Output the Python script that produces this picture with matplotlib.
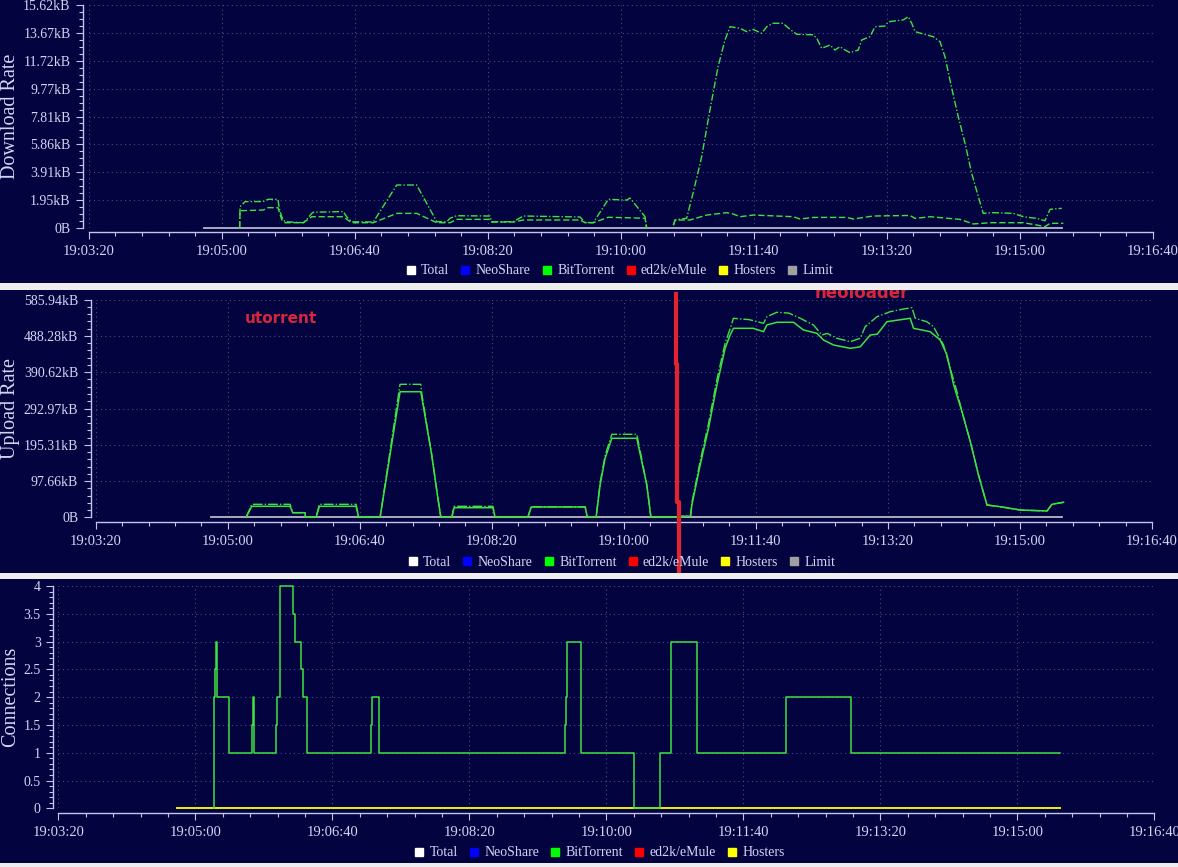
import numpy as np
import matplotlib.pyplot as plt
from matplotlib.lines import Line2D
from matplotlib.patches import Rectangle
from matplotlib.ticker import MultipleLocator, FuncFormatter
import matplotlib.transforms as mtrans

# time is in seconds after 19:00:00
x_min, x_max = 200, 1000

# --- Download rate (bytes/s) ---
dl_total_t = [313.5, 313.8, 317.5, 331.3, 334.8, 342.3, 343.3, 345.1, 347.6, 361.4, 363.9,
              367.7, 368.9, 391.4, 394.0, 397.7, 414.0, 431.6, 446.6, 461.7, 469.2, 471.7,
              476.7, 501.7, 503.0, 519.2, 526.8, 569.4, 573.2, 579.4, 590.7, 604.5, 607.0,
              618.3, 619.5, np.nan, 639.6, 640.9, 649.6, 654.4, 660.9, 667.1, 673.2, 678.4,
              682.2, 689.7, 694.7, 699.5, 706.0, 709.8, 714.5, 722.0, 727.3, 732.3, 744.6,
              747.4, 751.1, 757.4, 761.1, 764.9, 768.7, 772.4, 778.6, 781.2, 787.4, 791.2,
              798.7, 801.2, 812.5, 816.2, 818.8, 821.3, 830.1, 835.0, 840.1, 843.8, 848.9,
              853.8, 858.9, 863.9, 868.9, 872.6, 880.2, 895.2, 902.7, 912.8, 919.0, 922.8,
              931.6]
dl_total_v = [0, 1530, 1890, 1900, 2060, 2060, 1400, 810, 450, 380, 600,
              1050, 1130, 1180, 800, 450, 430, 3085, 3085, 450, 450, 700,
              880, 860, 450, 450, 860, 790, 400, 380, 2060, 2000, 2150,
              810, 0, np.nan, 200, 575, 700, 2500, 5115, 8470, 11570, 13490,
              14440, 14330, 14090, 14250, 13970, 14440, 14690, 14690, 14250, 13900, 13860,
              13620, 12890, 13130, 12770, 13010, 12770, 12580, 12770, 13490, 13730, 14440,
              14490, 14800, 14930, 15160, 14690, 14090, 13850, 13730, 13370, 12290, 10020,
              7990, 6080, 3920, 2250, 1050, 1100, 1050, 810, 690, 520, 1340,
              1410]

dl_bt_t = [313.5, 313.8, 331.3, 334.8, 342.3, 345.1, 347.6, 361.4, 367.7, 391.4, 397.7,
           414.0, 431.6, 446.6, 461.7, 471.7, 476.7, 501.7, 503.0, 519.2, 526.8, 569.4,
           573.2, 579.4, 590.7, 618.3, 619.5, np.nan, 639.6, 640.9, 652.1, 664.7, 679.7,
           684.7, 689.7, 699.7, 729.8, 734.8, 744.8, 769.9, 774.9, 789.9, 817.5, 821.3,
           832.6, 855.1, 865.1, 877.7, 902.7, 912.8, 919.0, 922.8, 932.8]
dl_bt_v = [0, 1240, 1290, 1460, 1460, 600, 380, 380, 810, 810, 380,
           380, 1050, 1050, 380, 380, 620, 620, 430, 430, 575, 575,
           380, 380, 770, 700, 0, np.nan, 200, 575, 575, 930, 1100,
           1000, 810, 930, 810, 645, 760, 760, 645, 860, 900, 690,
           810, 620, 290, 380, 380, 215, 95, 335, 335]

# --- Upload rate (bytes/s) ---
ul_total_t = [313.9, 318.2, 347.2, 349.2, 358.6, 358.7, 366.9, 369.4, 397.2, 399.2, 415.4,
              430.5, 446.2, 447.0, 454.5, 458.8, 461.4, 469.7, 471.4, 500.8, 502.5, 527.3,
              529.8, 570.7, 572.4, 579.0, 582.0, 585.8, 590.9, 609.8, 613.6, 617.4, 620.5,
              643.5, 643.9, 650.5, 651.5, 657.8, 664.1, 670.5, 676.7, 680.5, 683.0, 695.0,
              705.8, 708.3, 715.9, 725.0, 733.6, 743.6, 750.0, 754.0, 761.4, 771.4, 779.0,
              782.8, 791.7, 801.7, 811.8, 818.2, 820.7, 829.5, 834.5, 842.1, 847.2, 852.3,
              856.1, 862.4, 868.6, 875.0, 885.1, 900.2, 920.5, 924.2, 933.0]
ul_total_v = [0, 35800, 35800, 12700, 12700, 0, 0, 35800, 35800, 0, 0,
              366700, 366700, 340000, 171800, 61500, 0, 0, 30300, 30300, 0, 0,
              29000, 29000, 0, 0, 95000, 170000, 228900, 228900, 160000, 89000, 0,
              0, 3000, 3000, 40000, 155000, 258000, 380000, 480000, 520000, 548700, 545000,
              534900, 553100, 565300, 563000, 548700, 530200, 502700, 507000, 493600, 484200, 493600,
              525600, 553100, 566900, 574400, 578000, 548700, 539300, 525600, 475100, 410900, 346300,
              291200, 208500, 116600, 33900, 29200, 20100, 17400, 35800, 41400]

ul_bt_t = [313.9, 318.2, 347.2, 349.2, 358.6, 358.7, 366.9, 369.4, 397.2, 399.2, 415.4,
           430.5, 446.2, 447.0, 454.5, 458.8, 461.4, 469.7, 471.4, 500.8, 502.5, 527.3,
           529.8, 570.7, 572.4, 579.0, 582.0, 585.8, 590.9, 609.8, 613.6, 617.4, 620.5,
           643.5, 643.9, 650.5, 651.5, 657.8, 664.1, 670.5, 676.7, 680.5, 683.0, 698.0,
           705.8, 708.3, 715.9, 728.5, 736.0, 746.2, 751.2, 758.8, 771.4, 779.0, 786.6,
           792.0, 799.2, 816.9, 819.4, 832.0, 839.6, 844.7, 849.8, 856.1, 862.4, 868.6,
           875.0, 885.1, 900.2, 920.5, 924.2, 933.0]
ul_bt_v = [0, 30300, 30300, 12700, 12700, 0, 0, 30300, 30300, 0, 0,
           346300, 346300, 330000, 171800, 61500, 0, 0, 26500, 26500, 0, 0,
           28400, 28400, 0, 0, 89000, 162600, 217800, 217800, 153300, 89000, 0,
           0, 3000, 3000, 33900, 144200, 245400, 364800, 466000, 502700, 521100, 521100,
           511800, 530200, 537700, 537700, 516500, 507400, 488900, 475100, 466000, 470000, 502700,
           505000, 539300, 548700, 521100, 511800, 488900, 447500, 364800, 291200, 208500, 116600,
           33900, 29200, 20100, 17400, 35800, 41400]

# --- Connections (steps) ---
conn_t = [313.6, 313.9, 314.5, 315.0, 315.5, 324.8, 341.6, 342.1, 343.1, 358.7, 359.4,
          361.8, 371.5, 372.6, 377.4, 378.4, 381.3, 428.5, 429.2, 433.9, 570.1, 570.6,
          571.3, 581.3, 581.8, 620.4, 639.4, 647.2, 666.4, 731.4, 778.4, 931.2]
conn_v = [0, 2, 2.5, 3, 2, 1, 1.5, 2, 1, 1.5, 2,
          4, 3.5, 3, 2.5, 2, 1, 1.5, 2, 1, 1.5, 2,
          3, 2, 1, 0, 1, 3, 1, 2, 1, 1]

# zero-valued series that span the whole session
limit_t = [287, 932]
limit_v = [0, 0]
hosters_t = [287, 931]
hosters_v = [0, 0]

legend_names = ['Total', 'NeoShare', 'BitTorrent', 'ed2k/eMule', 'Hosters', 'Limit']
legend_colors = ['#ffffff', '#0000ff', '#00ff00', '#ff0000', '#ffff00', '#a0a0a0']

marker_t = [639.6, 639.6, 640.6, 640.6, 641.4, 641.4]  # red hand-drawn mark

W, H = 1178, 867
bg = '#03033f'
fg = '#d4d4f4'
axis_col = '#c4c4ec'
grid_col = '#4a4a8c'
green = '#3fe23f'
serif = 'Liberation Serif'

plt.rcParams['font.family'] = serif

fig = plt.figure(figsize=(W / 100, H / 100), dpi=100, facecolor=bg)


def px_axes(left, right, top, bottom):
    return fig.add_axes([left / W, 1 - bottom / H, (right - left) / W, (bottom - top) / H])


def fmt_time(v, pos):
    v = int(round(v))
    return '19:%02d:%02d' % (v // 60, v % 60)


def fmt_bytes(v, pos):
    if abs(v) < 1e-9:
        return '0B'
    return '%.2fkB' % (v / 1024)


def style(ax, ymax, ymajor, yminor, yfmt, off_left, off_bottom):
    ax.set_facecolor(bg)
    ax.set_xlim(x_min, x_max)
    ax.set_ylim(0, ymax)
    for s in ['top', 'right']:
        ax.spines[s].set_visible(False)
    ax.spines['left'].set_position(('outward', off_left))
    ax.spines['bottom'].set_position(('outward', off_bottom))
    for s in ['left', 'bottom']:
        ax.spines[s].set_color(axis_col)
        ax.spines[s].set_linewidth(1.0)
    ax.xaxis.set_major_locator(MultipleLocator(100))
    ax.xaxis.set_minor_locator(MultipleLocator(20))
    ax.yaxis.set_major_locator(MultipleLocator(ymajor))
    ax.yaxis.set_minor_locator(MultipleLocator(yminor))
    ax.xaxis.set_major_formatter(FuncFormatter(fmt_time))
    ax.yaxis.set_major_formatter(FuncFormatter(yfmt))
    ax.tick_params(which='major', length=5, width=0.8, color=axis_col, labelcolor=fg, pad=4)
    ax.tick_params(which='minor', length=3, width=0.8, color=axis_col)
    ax.tick_params(axis='x', labelsize=10.5)
    ax.tick_params(axis='y', labelsize=10)
    ax.grid(True, which='major', color=grid_col, linestyle=(0, (1, 3)), linewidth=0.8)
    ax.set_axisbelow(True)


def add_legend(names, cx, cy):
    handles = [Line2D([], [], marker='s', linestyle='none', markersize=6,
                      markerfacecolor=legend_colors[legend_names.index(n)],
                      markeredgecolor=legend_colors[legend_names.index(n)]) for n in names]
    fig.legend(handles, names, loc='center', bbox_to_anchor=(cx / W, 1 - cy / H),
               ncol=len(names), frameon=False, fontsize=10, labelcolor=fg,
               handlelength=0.6, handletextpad=0.45, columnspacing=0.85,
               borderpad=0, borderaxespad=0)


# --- panel 1: download ---
ax1 = px_axes(88.7, 1152.7, 5, 228)
style(ax1, 16000, 2000, 500, fmt_bytes, 4.1, 2.9)
ax1.plot(limit_t, limit_v, color='#b8b8c8', lw=1.3, clip_on=False)
ax1.plot(dl_total_t, dl_total_v, color=green, lw=1.0, dashes=(5, 1.5, 1, 1.5), clip_on=False)
ax1.plot(dl_bt_t, dl_bt_v, color=green, lw=1.0, dashes=(4.5, 2), clip_on=False)
fig.text(11 / W, 1 - 116.5 / H, 'Download Rate', rotation=90, ha='center', va='center',
         fontsize=14.5, color=fg)
add_legend(legend_names, 620, 271)

# --- panel 2: upload ---
ax2 = px_axes(95.7, 1152, 299.7, 517.3)
style(ax2, 600000, 100000, 20000, fmt_bytes, 3.6, 3.6)
ax2.plot(limit_t, limit_v, color='#b8b8c8', lw=1.3, clip_on=False)
ax2.plot(ul_total_t, ul_total_v, color=green, lw=1.0, dashes=(7, 1.5, 1, 1.5), clip_on=False)
ax2.plot(ul_bt_t, ul_bt_v, color=green, lw=1.1, clip_on=False)
fig.text(10.5 / W, 1 - 408.5 / H, 'Upload Rate', rotation=90, ha='center', va='center',
         fontsize=14.5, color=fg)
add_legend(legend_names, 622, 562)

# hand-drawn annotations
blend = mtrans.blended_transform_factory(ax2.transData, ax2.transAxes)
ax2.plot(marker_t, [1.035, 0.704, 0.704, 0.07, 0.07, -0.26], color='#e3242e', lw=3.0,
         transform=blend, clip_on=False, solid_capstyle='butt', zorder=5)
fig.text(245 / W, 1 - 318 / H, 'utorrent', ha='left', va='center', fontsize=11,
         fontweight='bold', color='#d8263a', family='DejaVu Sans')
fig.text(815 / W, 1 - 293 / H, 'neoloader', ha='left', va='center', fontsize=12,
         fontweight='bold', color='#d8263a', family='DejaVu Sans', zorder=0.5)

# --- panel 3: connections ---
ax3 = px_axes(58.3, 1154.3, 586, 808.3)
style(ax3, 4, 0.5, 0.1, lambda v, p: '%g' % v, 3.6, 3.6)
ax3.plot(hosters_t, hosters_v, color='#f0f000', lw=1.4, clip_on=False)
ax3.plot(conn_t, conn_v, color=green, lw=1.1, drawstyle='steps-post', clip_on=False)
fig.text(11 / W, 1 - 697 / H, 'Connections', rotation=90, ha='center', va='center',
         fontsize=14.5, color=fg)
add_legend(legend_names[:5], 600, 853)

# light separator strips between the panels
for y0, y1 in [(282.7, 290), (572.7, 579.3), (863, 867)]:
    fig.patches.append(Rectangle((0, 1 - y1 / H), 1, (y1 - y0) / H, transform=fig.transFigure,
                                 facecolor='#eeeeee', edgecolor='none', zorder=1))

fig.savefig('out.png', dpi=100, facecolor=bg)
